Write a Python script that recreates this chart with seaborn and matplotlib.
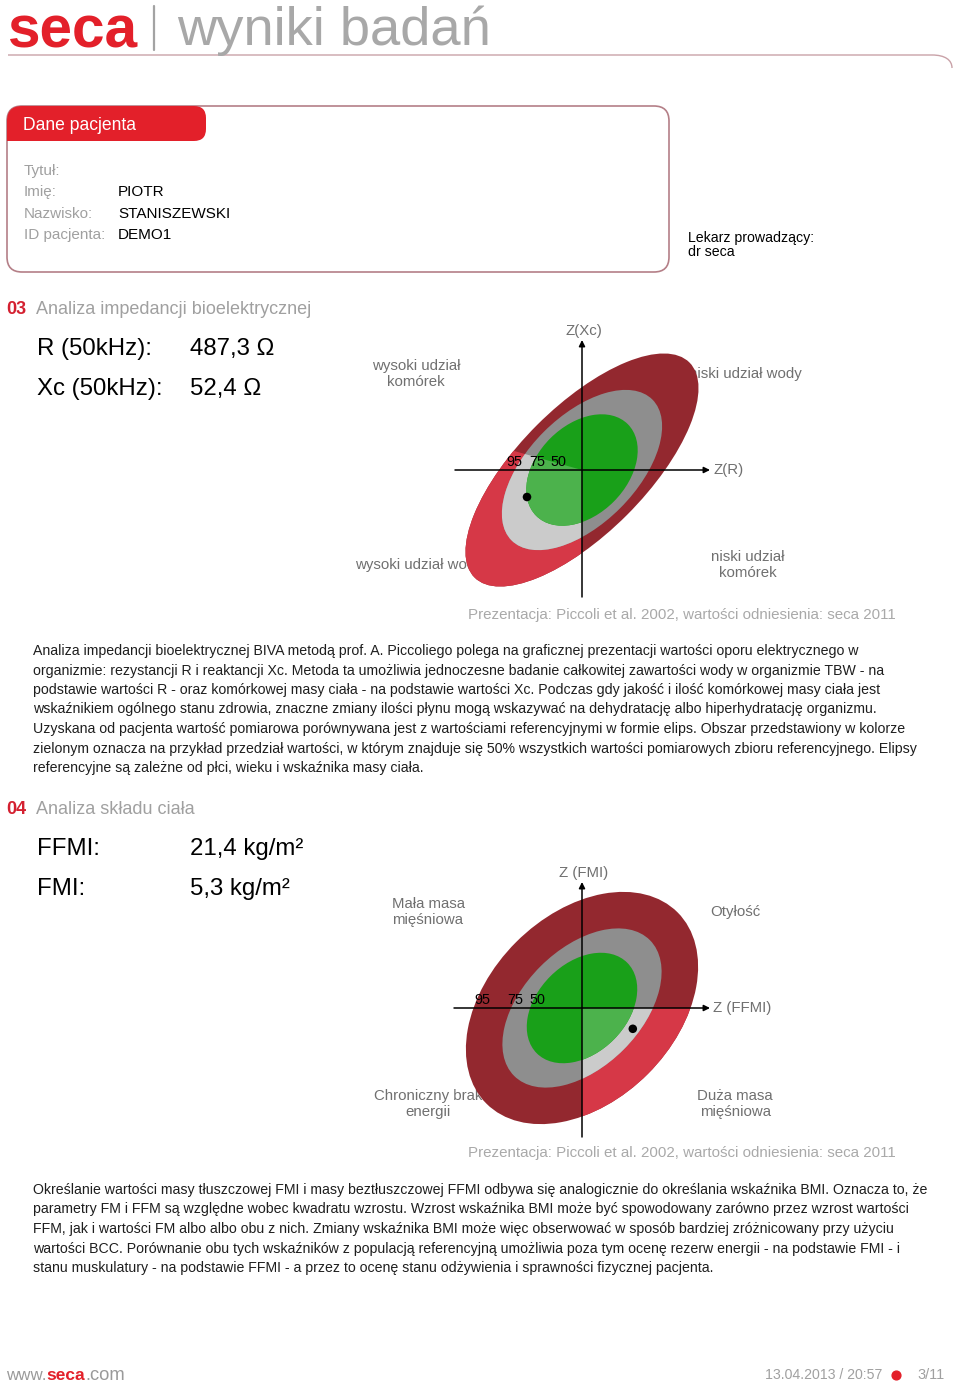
import matplotlib
matplotlib.use("Agg")
import matplotlib.pyplot as plt
from matplotlib.patches import Ellipse, FancyBboxPatch, Polygon, PathPatch
from matplotlib.path import Path
import numpy as np
import pandas as pd
import seaborn as sns

W, H = 960, 1385

# ---------------- data ----------------
patient_labels = ["Tytuł:", "Imię:", "Nazwisko:", "ID pacjenta:"]
patient_values = ["", "PIOTR", "STANISZEWSKI", "DEMO1"]
doctor_lines = ["Lekarz prowadzący:", "dr seca"]

biva_labels = ["R (50kHz):", "Xc (50kHz):"]
biva_values = ["487,3 Ω", "52,4 Ω"]
bcm_labels = ["FFMI:", "FMI:"]
bcm_values = ["21,4 kg/m²", "5,3 kg/m²"]

percentiles = ["95", "75", "50"]
# tolerance ellipses (semi-axes in chart units), outer -> inner
biva_major = [3.80, 2.49, 1.62]
biva_minor = [1.59, 1.35, 1.12]
fmi_major = [3.38, 2.40, 1.60]
fmi_minor = [2.33, 1.47, 1.12]
ellipse_angle = 45

biva_point = (-1.375, -0.675)
fmi_point = (1.27, -0.52)

biva_quadrants = ["wysoki udział\nkomórek", "niski udział wody",
                  "wysoki udział wody", "niski udział\nkomórek"]
fmi_quadrants = ["Mała masa\nmięśniowa", "Otyłość",
                 "Chroniczny brak\nenergii", "Duża masa\nmięśniowa"]
biva_axes_names = ["Z(R)", "Z(Xc)"]
fmi_axes_names = ["Z (FFMI)", "Z (FMI)"]
source_note = "Prezentacja: Piccoli et al. 2002, wartości odniesienia: seca 2011"

para1 = [
    "Analiza impedancji bioelektrycznej BIVA metodą prof. A. Piccoliego polega na graficznej prezentacji wartości oporu elektrycznego w",
    "organizmie: rezystancji R i reaktancji Xc. Metoda ta umożliwia jednoczesne badanie całkowitej zawartości wody w organizmie TBW - na",
    "podstawie wartości R - oraz komórkowej masy ciała - na podstawie wartości Xc. Podczas gdy jakość i ilość komórkowej masy ciała jest",
    "wskaźnikiem ogólnego stanu zdrowia, znaczne zmiany ilości płynu mogą wskazywać na dehydratację albo hiperhydratację organizmu.",
    "Uzyskana od pacjenta wartość pomiarowa porównywana jest z wartościami referencyjnymi w formie elips. Obszar przedstawiony w kolorze",
    "zielonym oznacza na przykład przedział wartości, w którym znajduje się 50% wszystkich wartości pomiarowych zbioru referencyjnego. Elipsy",
    "referencyjne są zależne od płci, wieku i wskaźnika masy ciała.",
]
para2 = [
    "Określanie wartości masy tłuszczowej FMI i masy beztłuszczowej FFMI odbywa się analogicznie do określania wskaźnika BMI. Oznacza to, że",
    "parametry FM i FFM są względne wobec kwadratu wzrostu. Wzrost wskaźnika BMI może być spowodowany zarówno przez wzrost wartości",
    "FFM, jak i wartości FM albo albo obu z nich. Zmiany wskaźnika BMI może więc obserwować w sposób bardziej zróżnicowany przy użyciu",
    "wartości BCC. Porównanie obu tych wskaźników z populacją referencyjną umożliwia poza tym ocenę rezerw energii - na podstawie FMI - i",
    "stanu muskulatury - na podstawie FFMI - a przez to ocenę stanu odżywienia i sprawności fizycznej pacjenta.",
]
footer_date = "13.04.2013 / 20:57"
footer_page = "3/11"

# ---------------- style ----------------
sns.set_theme(style="white")
SANS = ['Liberation Sans', 'DejaVu Sans']
NARROW = ['Liberation Sans Narrow', 'Liberation Sans', 'DejaVu Sans']
plt.rcParams['font.family'] = SANS

RED = '#e3202a'
DARK_RED, LIGHT_RED = '#93282f', '#d63847'
DARK_GRAY, LIGHT_GRAY = '#8e8e8e', '#cbcbcb'
DARK_GREEN, LIGHT_GREEN = '#19a019', '#4cb24c'
dark_cols = [DARK_RED, DARK_GRAY, DARK_GREEN]
light_cols = [LIGHT_RED, LIGHT_GRAY, LIGHT_GREEN]

fig = plt.figure(figsize=(W / 100, H / 100), dpi=100)
page = fig.add_axes([0, 0, 1, 1])
page.set_xlim(0, W)
page.set_ylim(H, 0)
page.axis('off')
renderer = fig.canvas.get_renderer()


def fit(t, width):
    bb = t.get_window_extent(renderer)
    t.set_fontsize(t.get_fontsize() * width / bb.width)
    return t.get_fontsize()


def txt(x, y, s, size, color='black', **kw):
    kw.setdefault('va', 'center')
    kw.setdefault('ha', 'left')
    return page.text(x, y, s, fontsize=size, color=color, **kw)


# ---------------- header ----------------
t = txt(8, 47, "seca", 40, RED, va='baseline', family=NARROW, fontweight='bold')
fit(t, 130)
page.plot([154, 154], [6, 50], color='#a3a3a3', lw=1.6)
t = txt(177, 45, "wyniki badań", 36, '#a8a8a8', va='baseline')
fit(t, 315)
hp = Path([(8, 55), (932, 55), (945, 55), (952, 60), (952, 68)],
          [Path.MOVETO, Path.LINETO, Path.CURVE4, Path.CURVE4, Path.CURVE4])
page.add_patch(PathPatch(hp, facecolor='none', edgecolor='#c9a2a8', lw=1))

# ---------------- patient box ----------------
page.add_patch(FancyBboxPatch((7, 106), 662, 166,
                              boxstyle="round,pad=0,rounding_size=15",
                              facecolor='white', edgecolor='#b47f87', lw=1.2))
r1, r2 = 15, 12
tab = Path([(7, 106 + r1), (7, 106), (7 + r1, 106), (206 - r2, 106), (206, 106), (206, 106 + r2),
            (206, 141 - r2), (206, 141), (206 - r2, 141), (7, 141), (7, 106 + r1)],
           [Path.MOVETO, Path.CURVE3, Path.CURVE3, Path.LINETO, Path.CURVE3, Path.CURVE3,
            Path.LINETO, Path.CURVE3, Path.CURVE3, Path.LINETO, Path.CLOSEPOLY])
page.add_patch(PathPatch(tab, facecolor=RED, edgecolor='none'))
t = txt(23, 126, "Dane pacjenta", 14, 'white', family=NARROW)
fit(t, 114)

for i, (lab, val) in enumerate(zip(patient_labels, patient_values)):
    y = 171 + i * 21.3
    txt(24, y, lab, 11, '#a0a0a0')
    if val:
        txt(118, y, val, 11, 'black')
for i, s in enumerate(doctor_lines):
    txt(688, 238 + i * 14, s, 10.2, 'black')

# ---------------- section headers & values ----------------
def section(y, num, title, labels, values):
    txt(6, y, num, 13, '#d42030', fontweight='bold')
    txt(36, y, title, 13, '#a0a0a0')
    for i, (l, v) in enumerate(zip(labels, values)):
        txt(37, y + 40 + i * 40, l, 17.3, 'black')
        txt(190, y + 40 + i * 40, v, 17.3, 'black')

section(309, "03", "Analiza impedancji bioelektrycznej", biva_labels, biva_values)
section(809, "04", "Analiza składu ciała", bcm_labels, bcm_values)

# ---------------- ellipse charts ----------------
UNIT = 40.0


def chart(x0, x1, y0, y1, ox, oy, major, minor, point, highlight, quads, qpos, names,
          vaxis, haxis, num_x):
    ax = fig.add_axes([x0 / W, 1 - y1 / H, (x1 - x0) / W, (y1 - y0) / H])
    ax.patch.set_alpha(0)
    # quadrant texts (drawn beneath the ellipses)
    for s, (qx, qy, ha) in zip(quads, qpos):
        ax.text(qx, qy, s, fontsize=10.8, color='#707070', ha=ha, va='center',
                multialignment='center', linespacing=1.15, zorder=1)
    clip = Polygon(highlight, closed=True, transform=ax.transData)
    for i, (a, b) in enumerate(zip(major, minor)):
        ax.add_patch(Ellipse((0, 0), 2 * a, 2 * b, angle=ellipse_angle,
                             facecolor=dark_cols[i], edgecolor='none', zorder=2 + 2 * i))
        e = Ellipse((0, 0), 2 * a, 2 * b, angle=ellipse_angle,
                    facecolor=light_cols[i], edgecolor='none', zorder=3 + 2 * i)
        ax.add_patch(e)
        e.set_clip_path(clip)
    ap = dict(arrowstyle='-|>', color='black', lw=1.1, mutation_scale=9, shrinkA=0, shrinkB=0)
    ax.annotate('', xy=(0, vaxis[1]), xytext=(0, vaxis[0]), arrowprops=ap, zorder=15)
    ax.annotate('', xy=(haxis[1], 0), xytext=(haxis[0], 0), arrowprops=ap, zorder=15)
    ax.text(haxis[1] + 0.08, 0, names[0], fontsize=10.8, color='#707070', ha='left', va='center')
    ax.text(0.05, vaxis[1] + 0.22, names[1], fontsize=10.8, color='#707070', ha='center', va='center')
    for s, nx in zip(percentiles, num_x):
        ax.text(nx, 0.2, s, fontsize=10.4, color='black', ha='center', va='center', zorder=16)
    sns.scatterplot(x=[point[0]], y=[point[1]], ax=ax, color='black', s=38,
                    edgecolor='none', zorder=20, legend=False)
    ax.set_xlim((x0 - ox) / UNIT, (x1 - ox) / UNIT)
    ax.set_ylim((oy - y1) / UNIT, (oy - y0) / UNIT)
    ax.set_xlabel('')
    ax.set_ylabel('')
    ax.axis('off')
    return ax


biva_highlight = [(0, 0), (-10, 2.8), (-10, -10), (0, -10)]
fmi_highlight = [(0, 0), (10, 0), (10, -10), (0, -10)]
biva_qpos = [(-4.15, 2.4, 'center'), (2.68, 2.4, 'left'), (-5.68, -2.38, 'left'), (4.15, -2.38, 'center')]
fmi_qpos = [(-3.85, 2.4, 'center'), (3.83, 2.4, 'center'), (-3.85, -2.4, 'center'), (3.83, -2.4, 'center')]

chart(330, 830, 320, 620, 582, 470, biva_major, biva_minor, biva_point, biva_highlight,
      biva_quadrants, biva_qpos, biva_axes_names, (-3.175, 3.25), (-3.175, 3.2), [-1.7, -1.125, -0.6])
chart(330, 830, 858, 1160, 582, 1008, fmi_major, fmi_minor, fmi_point, fmi_highlight,
      fmi_quadrants, fmi_qpos, fmi_axes_names, (-3.225, 3.15), (-3.2, 3.2), [-2.5, -1.675, -1.125])

# source notes
for y in (615, 1153):
    t = txt(896, y, source_note, 10.5, '#a9a9a9', ha='right')
    fit(t, 433)

# ---------------- paragraphs ----------------
t = txt(33, 651, para1[0], 10, '#1e1e1e')
fs = fit(t, 824)
for i, s in enumerate(para1[1:], start=1):
    txt(33, 651 + i * 19.5, s, fs, '#1e1e1e')
for i, s in enumerate(para2):
    txt(33, 1190 + i * 19.5, s, fs, '#1e1e1e')

# ---------------- footer ----------------
t1 = txt(6, 1375, "www.", 12, '#9a9a9a', family=NARROW)
fs_f = fit(t1, 40)
x = 6 + t1.get_window_extent(renderer).width
t2 = txt(x, 1375, "seca", fs_f, RED, family=NARROW, fontweight='bold')
fit(t2, 39)
x += t2.get_window_extent(renderer).width
t3 = txt(x, 1375, ".com", fs_f, '#9a9a9a', family=NARROW)
fit(t3, 40)
t = txt(882, 1375, footer_date, 12, '#a0a0a0', ha='right', family=NARROW)
fit(t, 117)
page.scatter([896], [1375], s=40, color=RED, zorder=5)
t = txt(945, 1375, footer_page, 12, '#a0a0a0', ha='right', family=NARROW)
fit(t, 27)

fig.savefig('out.png', dpi=100)
